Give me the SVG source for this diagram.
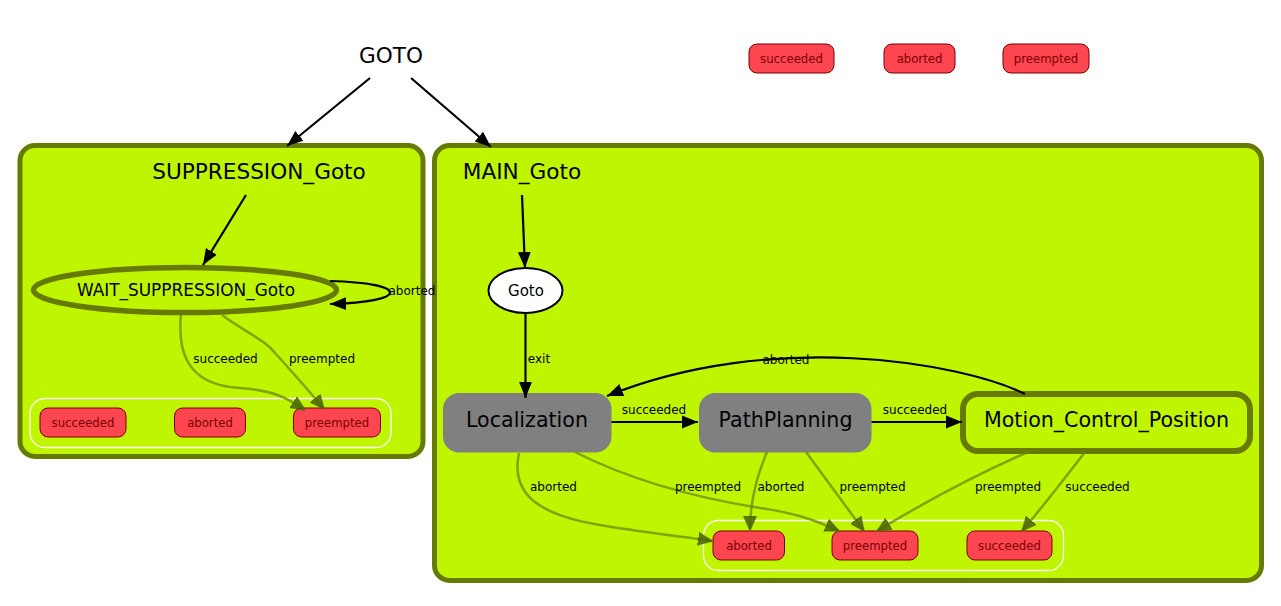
<svg xmlns="http://www.w3.org/2000/svg" width="1281" height="606" viewBox="0 0 1281 606">
<defs>
<marker id="ao" viewBox="0 0 10 10" refX="10" refY="5" markerWidth="14" markerHeight="14" markerUnits="userSpaceOnUse" orient="auto">
<path d="M0,0.5 L10,5 L0,9.5 z" fill="#4a6400" fill-opacity="0.85" stroke="#4a6400" stroke-opacity="0.7" stroke-width="1"/>
</marker>
<marker id="abig" viewBox="0 0 10 10" refX="10" refY="5" markerWidth="16" markerHeight="16" markerUnits="userSpaceOnUse" orient="auto">
<path d="M0,1 L10,5 L0,9 z" fill="#000"/>
</marker>
</defs>
<style>
text{font-family:"DejaVu Sans","Liberation Sans",sans-serif;text-anchor:middle;dominant-baseline:central;fill:#000}
.cont{fill:#c0f500;stroke:#667a00;stroke-width:5}
.oc{fill:#fe4650;stroke:#7a0000;stroke-width:1}
.oct{font-size:11.7px;fill:#7a0000}
.ocl{fill:none;stroke:#fff;stroke-width:1.3}
.big{font-size:21.6px}
.st{font-size:20.6px}
.lbl{font-size:12px}
.e{fill:none;stroke:#000;stroke-width:2.2}
.eo{fill:none;stroke:#6a8a00;stroke-opacity:0.75;stroke-width:2.5}
.gray{fill:#808080;stroke:none}
</style>

<g id="GOTO"><text x="391" y="55" class="big">GOTO</text></g>

<g id="top_outcomes">
<g id="top_succeeded"><rect class="oc" x="749" y="44" width="85" height="29" rx="8"/><text class="oct" x="791.5" y="58.5">succeeded</text></g>
<g id="top_aborted"><rect class="oc" x="884" y="44" width="71" height="29" rx="8"/><text class="oct" x="919.5" y="58.5">aborted</text></g>
<g id="top_preempted"><rect class="oc" x="1003" y="44" width="86" height="29" rx="8"/><text class="oct" x="1046" y="58.5">preempted</text></g>
</g>

<g id="SUPPRESSION_Goto">
<rect class="cont" x="20" y="145.5" width="403" height="311" rx="15"/>
<text x="259" y="171" class="big">SUPPRESSION_Goto</text>
<rect class="ocl" x="30" y="398.5" width="361" height="49" rx="15"/>
<g id="sup_succeeded"><rect class="oc" x="40" y="408" width="86" height="29" rx="8"/><text class="oct" x="83" y="422.5">succeeded</text></g>
<g id="sup_aborted"><rect class="oc" x="174.5" y="408" width="71" height="29" rx="8"/><text class="oct" x="210" y="422.5">aborted</text></g>
<g id="sup_preempted"><rect class="oc" x="293.5" y="408" width="87" height="29" rx="8"/><text class="oct" x="337" y="422.5">preempted</text></g>
</g>

<g id="MAIN_Goto">
<rect class="cont" x="434.5" y="145.5" width="827" height="435" rx="15"/>
<text x="522" y="171" class="big">MAIN_Goto</text>
<rect class="ocl" x="703.5" y="520.5" width="360" height="50" rx="15"/>
<g id="main_aborted"><rect class="oc" x="713" y="531" width="71.5" height="29" rx="8"/><text class="oct" x="749" y="545.5">aborted</text></g>
<g id="main_preempted"><rect class="oc" x="832" y="531" width="86" height="29" rx="8"/><text class="oct" x="875" y="545.5">preempted</text></g>
<g id="main_succeeded"><rect class="oc" x="967" y="531" width="85" height="29" rx="8"/><text class="oct" x="1009.5" y="545.5">succeeded</text></g>
</g>

<g id="WAIT_SUPPRESSION_Goto">
<ellipse cx="185" cy="290" rx="151.5" ry="22.5" fill="#c0f500" stroke="#667a00" stroke-width="5.5"/>
<text x="186" y="290" style="font-size:16.9px">WAIT_SUPPRESSION_Goto</text>
</g>

<g id="Goto">
<ellipse cx="525.5" cy="290.5" rx="37" ry="22.5" fill="#fff" stroke="#000" stroke-width="2"/>
<text x="526" y="290.5" style="font-size:15px">Goto</text>
</g>

<g id="Localization">
<rect class="gray" x="443" y="393" width="168.5" height="59.5" rx="16"/>
<text x="527" y="420" class="st">Localization</text>
</g>

<g id="PathPlanning">
<rect class="gray" x="699" y="393" width="172.5" height="59.5" rx="16"/>
<text x="785.5" y="420" class="st">PathPlanning</text>
</g>

<g id="Motion_Control_Position">
<rect x="963" y="394" width="287" height="57" rx="15" fill="#c0f500" stroke="#667a00" stroke-width="6"/>
<text x="1106.5" y="420" class="st">Motion_Control_Position</text>
</g>

<g id="connectors">
<path class="e" d="M370,78 L287,146" marker-end="url(#abig)"/>
<path class="e" d="M411,78 L491,147" marker-end="url(#abig)"/>
<path class="e" d="M246,195 L203,265" marker-end="url(#abig)"/>
<path class="e" d="M330,281 C410,283 410,302 330,304" marker-end="url(#abig)"/>
<text class="lbl" x="412" y="291">aborted</text>
<path class="eo" d="M181,314 C178,345 182,385 240,388 C275,390 290,400 305,410" marker-end="url(#ao)"/>
<text class="lbl" x="225.5" y="359">succeeded</text>
<path class="eo" d="M222,315 C245,332 265,340 275,353 C295,375 310,392 324,409" marker-end="url(#ao)"/>
<text class="lbl" x="322" y="359">preempted</text>

<path class="e" d="M522,195 L525,268" marker-end="url(#abig)"/>
<path class="e" d="M525.5,313 L525.5,398" marker-end="url(#abig)"/>
<text class="lbl" x="539" y="359">exit</text>
<path class="e" d="M611.5,422 L698,422" marker-end="url(#abig)"/>
<text class="lbl" x="654" y="409.5">succeeded</text>
<path class="e" d="M871.5,422 L962,422" marker-end="url(#abig)"/>
<text class="lbl" x="915" y="409.5">succeeded</text>
<path class="e" d="M1025,394 C960,362 770,330 607,396" marker-end="url(#abig)"/>
<text class="lbl" x="786" y="359.5">aborted</text>

<path class="eo" d="M519,453 C510,495 540,515 600,525 C640,532 680,536 712,541" marker-end="url(#ao)"/>
<text class="lbl" x="553.5" y="487">aborted</text>
<path class="eo" d="M575,452 C640,485 710,500 760,508 C795,513 815,520 839,531" marker-end="url(#ao)"/>
<text class="lbl" x="708" y="487">preempted</text>
<path class="eo" d="M767,452 C755,480 750,505 750,530" marker-end="url(#ao)"/>
<text class="lbl" x="781" y="487">aborted</text>
<path class="eo" d="M806,452 L864,531" marker-end="url(#ao)"/>
<text class="lbl" x="872.5" y="487">preempted</text>
<path class="eo" d="M1028,452 C975,475 920,505 877,531" marker-end="url(#ao)"/>
<text class="lbl" x="1008" y="487">preempted</text>
<path class="eo" d="M1085,452 C1065,478 1040,510 1022,531" marker-end="url(#ao)"/>
<text class="lbl" x="1097.5" y="487">succeeded</text>
</g>
</svg>
